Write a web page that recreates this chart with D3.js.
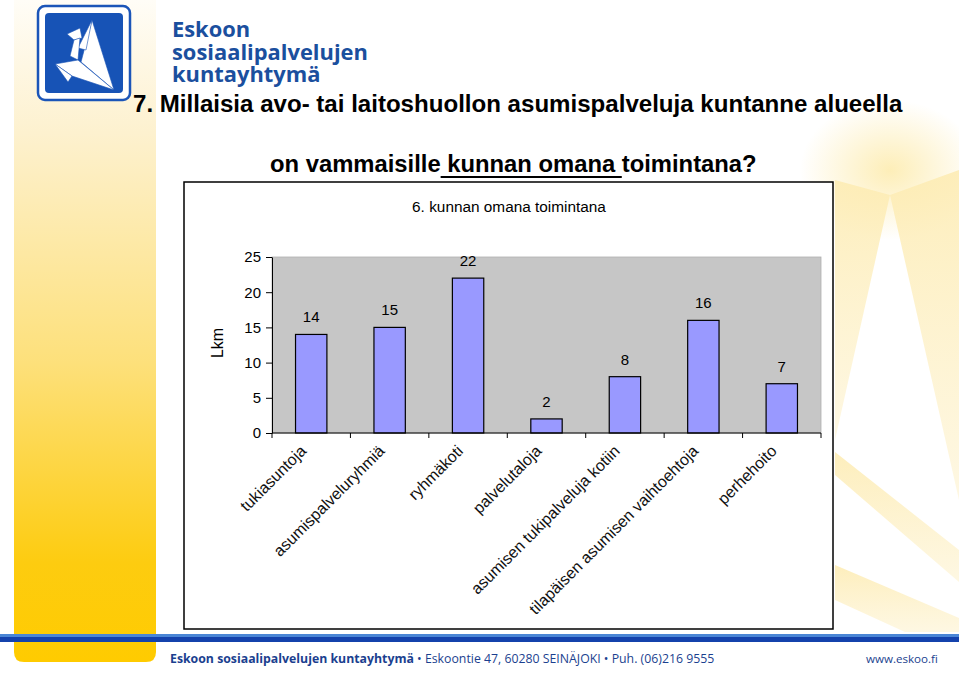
<!DOCTYPE html>
<html><head><meta charset="utf-8">
<script src="https://cdn.jsdelivr.net/npm/d3@7"></script>
<style>html,body{margin:0;padding:0;background:#fff;overflow:hidden}</style>
</head><body>
<script>
const categories = ["tukiasuntoja","asumispalveluryhmiä","ryhmäkoti","palvelutaloja","asumisen tukipalveluja kotiin","tilapäisen asumisen vaihtoehtoja","perhehoito"];
const values = [14,15,22,2,8,16,7];
const yTicks = [0,5,10,15,20,25];
const chartTitle = "6. kunnan omana toimintana";
const yAxisTitle = "Lkm";

(function(){
const W = 959, H = 676;
const FONT = "'Liberation Sans', Arial, sans-serif";
const svg = d3.select("body").append("svg").attr("width", W).attr("height", H);
const defs = svg.append("defs");
const g1 = defs.append("linearGradient").attr("id","ybar").attr("x1",0).attr("x2",0).attr("y1",0).attr("y2",1);
g1.append("stop").attr("offset","0%").attr("stop-color","#fffdf7");
g1.append("stop").attr("offset","20%").attr("stop-color","#fdf1cf");
g1.append("stop").attr("offset","55%").attr("stop-color","#fde07a");
g1.append("stop").attr("offset","85%").attr("stop-color","#fdcc10");
g1.append("stop").attr("offset","100%").attr("stop-color","#ffcb00");
const rg = defs.append("radialGradient").attr("id","glow");
rg.append("stop").attr("offset","0%").attr("stop-color","#fdecb0").attr("stop-opacity",0.9);
rg.append("stop").attr("offset","100%").attr("stop-color","#fdecb0").attr("stop-opacity",0);
const lg = defs.append("linearGradient").attr("id","ray").attr("x1",0).attr("x2",0).attr("y1",0).attr("y2",1);
lg.append("stop").attr("offset","0%").attr("stop-color","#fdecb4").attr("stop-opacity",0.9);
lg.append("stop").attr("offset","100%").attr("stop-color","#fdf0c6").attr("stop-opacity",0.5);

svg.append("rect").attr("width",W).attr("height",H).attr("fill","#fff");
svg.append("ellipse").attr("cx",890).attr("cy",170).attr("rx",90).attr("ry",70).attr("fill","url(#glow)");
const rays = [
  [[890,195],[835,180],[835,440]],
  [[890,195],[959,170],[959,500]],
  [[835,452],[835,475],[959,582],[959,550]],
  [[835,565],[835,600],[905,632],[959,632],[959,618]]
];
svg.append("g").selectAll("path").data(rays).join("path")
  .attr("d", d => "M" + d.join("L") + "Z")
  .attr("fill","url(#ray)");

svg.append("path").attr("d","M14,0H156V652Q156,662 146,662H24Q14,662 14,652Z").attr("fill","url(#ybar)");

svg.append("rect").attr("x",38).attr("y",6).attr("width",92).attr("height",94).attr("rx",7)
  .attr("fill","#fff").attr("stroke","#1b55b8").attr("stroke-width",2.5);
svg.append("rect").attr("x",45).attr("y",13).attr("width",78).attr("height",80).attr("rx",4).attr("fill","#1753b6");
const bird = [
  [[92,20],[81,62],[114,90]],
  [[92,20],[86,50],[78,48]],
  [[67,34],[80,28],[82,38],[74,40]],
  [[74,40],[80,38],[78,60],[70,56]],
  [[55,64],[78,60],[114,90],[72,76]],
  [[55,64],[72,76],[68,82]]
];
svg.append("g").selectAll("path").data(bird).join("path")
  .attr("d", d => "M" + d.join("L") + "Z")
  .attr("fill","#fff").attr("stroke","#1753b6").attr("stroke-width",0.6);

function fit(sel, w) {
  const n = sel.node(); const fs = parseFloat(sel.attr("font-size"));
  const len = n.getComputedTextLength();
  sel.attr("font-size", fs * w / len);
}
const brand = ["Eskoon","sosiaalipalvelujen","kuntayhtymä"];
const bl = svg.append("g");
brand.forEach((t,i) => {
  bl.append("text").attr("x",172).attr("y",37 + i*22.5).attr("font-family","'Open Sans', 'DejaVu Sans', sans-serif")
    .attr("font-weight","bold").attr("font-size",21).attr("fill","#1b4f9e").text(t);
});
const mid = bl.selectAll("text").filter((d,i)=>i===1);
fit(mid, 196);
bl.selectAll("text").attr("font-size", mid.attr("font-size"));

const t1 = svg.append("text").attr("x",133).attr("y",112).attr("font-family",FONT)
  .attr("font-weight","bold").attr("font-size",22).attr("fill","#000")
  .text("7. Millaisia avo- tai laitoshuollon asumispalveluja kuntanne alueella");
fit(t1, 770);
const t2 = svg.append("text").attr("x",270).attr("y",172).attr("font-family",FONT)
  .attr("font-weight","bold").attr("font-size",22).attr("fill","#000")
  .text("on vammaisille kunnan omana toimintana?");
fit(t2, 487);
{
  const n = t2.node();
  const s = "on vammaisille".length; const e = "on vammaisille kunnan omana ".length;
  const x0 = 270 + n.getSubStringLength(0, s);
  const x1 = 270 + n.getSubStringLength(0, e);
  svg.append("line").attr("x1",x0).attr("x2",x1).attr("y1",177).attr("y2",177).attr("stroke","#000").attr("stroke-width",2);
}

svg.append("rect").attr("x",184).attr("y",182).attr("width",649).attr("height",447)
  .attr("fill","#fff").attr("stroke","#000").attr("stroke-width",1.5);
const ct = svg.append("text").attr("x",509).attr("y",212).attr("text-anchor","middle")
  .attr("font-family",FONT).attr("font-size",15).text(chartTitle);
fit(ct, 194);

const pL = 272, pR = 821, pT = 257, pB = 433;
const x = d3.scaleBand().domain(categories).range([pL, pR]).paddingInner(0.6).paddingOuter(0.3);
const y = d3.scaleLinear().domain([0, 25]).range([pB, pT]);

svg.append("rect").attr("x",pL).attr("y",pT).attr("width",pR-pL).attr("height",pB-pT)
  .attr("fill","#c6c6c6").attr("stroke","#b0b0b0").attr("stroke-width",0.8);

svg.append("g").selectAll("rect").data(values).join("rect")
  .attr("x",(d,i)=>x(categories[i])).attr("width",x.bandwidth())
  .attr("y",d=>y(d)).attr("height",d=>y(0)-y(d))
  .attr("fill","#9999ff").attr("stroke","#000").attr("stroke-width",1.2);

svg.append("g").selectAll("text").data(values).join("text")
  .attr("x",(d,i)=>x(categories[i]) + x.bandwidth()/2).attr("y",d=>y(d)-12)
  .attr("text-anchor","middle").attr("font-family",FONT)
  .attr("font-size",15).text(d=>d);

const ya = svg.append("g").attr("transform",`translate(${pL},0)`)
  .call(d3.axisLeft(y).tickValues(yTicks).tickSize(6).tickSizeOuter(0).tickPadding(5));
ya.select(".domain").attr("stroke","#000");
ya.selectAll("line").attr("stroke","#000");
ya.selectAll("text").attr("font-family",FONT).attr("font-size",15).attr("fill","#000");

const step = x.step();
const bounds = d3.range(categories.length + 1).map(i => pL + i*step);
svg.append("line").attr("x1",pL).attr("x2",pR).attr("y1",pB).attr("y2",pB).attr("stroke","#000");
svg.append("g").selectAll("line").data(bounds).join("line")
  .attr("x1",d=>d).attr("x2",d=>d).attr("y1",pB).attr("y2",pB+5).attr("stroke","#000");

svg.append("g").selectAll("text").data(categories).join("text")
  .attr("transform",d=>`translate(${x(d)+x.bandwidth()/2 - 8},${pB+15}) rotate(-45)`)
  .attr("text-anchor","end").attr("dy","0.35em")
  .attr("font-family",FONT).attr("font-size",16).attr("fill","#111")
  .text(d=>d);

svg.append("text").attr("transform",`translate(223,343) rotate(-90)`).attr("text-anchor","middle")
  .attr("font-family",FONT).attr("font-size",16).text(yAxisTitle);

svg.append("rect").attr("x",0).attr("y",634).attr("width",W).attr("height",3).attr("fill","#4a86d6");
svg.append("rect").attr("x",0).attr("y",637).attr("width",W).attr("height",5).attr("fill","#1442ac");
const ft = svg.append("text").attr("x",170).attr("y",663).attr("font-family","'Liberation Sans Narrow','Open Sans', sans-serif")
  .attr("font-size",13).attr("fill","#1b3f8f");
ft.append("tspan").attr("font-weight","bold").text("Eskoon sosiaalipalvelujen kuntayhtymä");
ft.append("tspan").text(" • Eskoontie 47, 60280 SEINÄJOKI • Puh. (06)216 9555");
fit(ft, 545);
const ft2 = svg.append("text").attr("x",866).attr("y",663).attr("font-family","'Liberation Sans Narrow','Open Sans', sans-serif")
  .attr("font-size",13).attr("fill","#1b3f8f").text("www.eskoo.fi");
fit(ft2, 72);
})();
</script>
</body></html>
